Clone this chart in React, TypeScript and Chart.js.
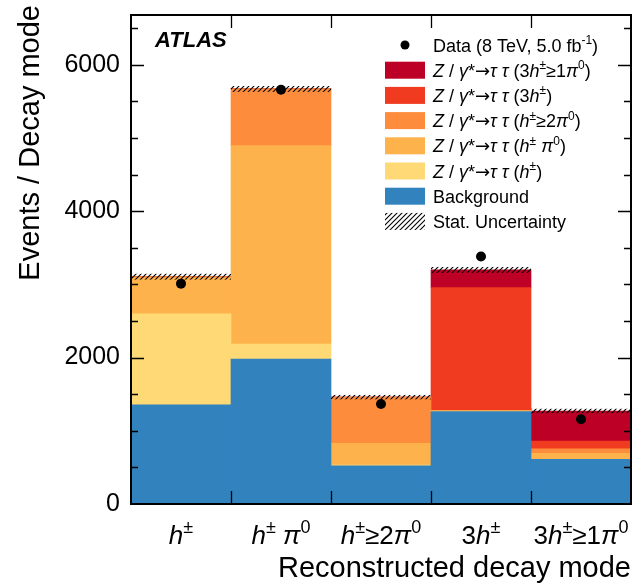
import React, { useEffect, useRef } from 'react';
import { Chart, registerables } from 'chart.js';

Chart.register(...registerables);

// ---------------- data ----------------
const categories = ['h±', 'h± π0', 'h± ≥2π0', '3h±', '3h± ≥1π0'];
const categoryLabels = ['$h$^{±}', '$h$^{±} $π$^{0}', '$h$^{±}≥2$π$^{0}', '3$h$^{±}', '3$h$^{±}≥1$π$^{0}'];

const background = [1355, 1980, 520, 1262, 611];
const zttOneProng = [1243, 205, 10, 0, 0];
const zttOneProngPi0 = [492, 2710, 300, 15, 82];
const zttOneProngXPi0 = [15, 775, 630, 0, 59];
const zttThreeProng = [0, 0, 0, 1679, 109];
const zttThreeProngPi0 = [0, 0, 0, 242, 410];
const dataValues = [3010, 5660, 1366, 3380, 1158];
const statUnc = [40, 40, 30, 40, 30];

const yMax = 6680;
const yMajorTicks = [0, 2000, 4000, 6000];
const yMinorStep = 500;
const yMajorStep = 2000;

const stackSeries = [
  { label: 'Background', legend: 'Background', values: background, color: '#3182BD' },
  { label: 'Ztt h', legend: '$Z$ / $γ$*→$τ τ$ ($h$^{±})', values: zttOneProng, color: '#FED976' },
  { label: 'Ztt h pi0', legend: '$Z$ / $γ$*→$τ τ$ ($h$^{±} $π$^{0})', values: zttOneProngPi0, color: '#FEB24C' },
  { label: 'Ztt h >=2pi0', legend: '$Z$ / $γ$*→$τ τ$ ($h$^{±}≥2$π$^{0})', values: zttOneProngXPi0, color: '#FD8D3C' },
  { label: 'Ztt 3h', legend: '$Z$ / $γ$*→$τ τ$ (3$h$^{±})', values: zttThreeProng, color: '#F03B20' },
  { label: 'Ztt 3h >=1pi0', legend: '$Z$ / $γ$*→$τ τ$ (3$h$^{±}≥1$π$^{0})', values: zttThreeProngPi0, color: '#BD0026' },
];

const FONT = '"Liberation Sans", Arial, Helvetica, sans-serif';
const ARROW_FONT = '"DejaVu Sans", sans-serif';

// ---------------- rich text helpers ----------------
type Seg = { text: string; italic: boolean; sup: boolean };
function parseRich(s: string): Seg[] {
  const segs: Seg[] = [];
  let italic = false;
  let sup = false;
  let buf = '';
  const push = () => {
    if (buf) segs.push({ text: buf, italic, sup });
    buf = '';
  };
  let i = 0;
  while (i < s.length) {
    const c = s[i];
    if (c === '$') { push(); italic = !italic; i++; continue; }
    if (c === '^' && s[i + 1] === '{') { push(); sup = true; i += 2; continue; }
    if (c === '}' && sup) { push(); sup = false; i++; continue; }
    if (c === '→') { push(); buf = c; push(); i++; continue; }
    buf += c;
    i++;
  }
  push();
  return segs;
}

function drawRich(ctx: CanvasRenderingContext2D, s: string, x: number, y: number, size: number, align: 'left' | 'center' | 'right') {
  const segs = parseRich(s);
  const fontFor = (seg: Seg) => {
    const sz = seg.sup ? Math.round(size * 0.68) : size;
    if (seg.text === '→') return `${sz}px ${ARROW_FONT}`;
    return `${seg.italic ? 'italic ' : ''}${sz}px ${FONT}`;
  };
  let w = 0;
  for (const seg of segs) { ctx.font = fontFor(seg); w += ctx.measureText(seg.text).width; }
  let cx = align === 'center' ? x - w / 2 : align === 'right' ? x - w : x;
  ctx.textAlign = 'left';
  ctx.textBaseline = 'alphabetic';
  for (const seg of segs) {
    ctx.font = fontFor(seg);
    ctx.fillText(seg.text, cx, seg.sup ? y - size * 0.42 : y);
    cx += ctx.measureText(seg.text).width;
  }
}

function makeHatch(ctx: CanvasRenderingContext2D): CanvasPattern | string {
  const c = document.createElement('canvas');
  c.width = 5; c.height = 5;
  const g = c.getContext('2d');
  if (!g) return '#000';
  g.strokeStyle = '#000';
  g.lineWidth = 1.1;
  g.beginPath();
  g.moveTo(-1, 6); g.lineTo(6, -1);
  g.moveTo(-1, 1); g.lineTo(1, -1);
  g.moveTo(4, 6); g.lineTo(6, 4);
  g.stroke();
  return ctx.createPattern(c, 'repeat') || '#000';
}

const atlasPlugin = {
  id: 'atlasDecor',
  afterDatasetDraw(chart: any, args: any) {
    if (args.index !== 0) return;
    const ctx: CanvasRenderingContext2D = chart.ctx;
    const xs = chart.scales.x;
    const ys = chart.scales.y;
    const half = (xs.getPixelForValue(1) - xs.getPixelForValue(0)) / 2;
    const pat = makeHatch(ctx);
    ctx.save();
    categories.forEach((_, i) => {
      const total = stackSeries.reduce((a, s) => a + s.values[i], 0);
      const x0 = xs.getPixelForValue(i) - half;
      const top = ys.getPixelForValue(total + statUnc[i]);
      const bot = ys.getPixelForValue(total - statUnc[i]);
      ctx.fillStyle = pat as any;
      ctx.fillRect(x0, top, 2 * half, bot - top);
    });
    ctx.restore();
  },
  afterDatasetsDraw(chart: any) {
    const ctx: CanvasRenderingContext2D = chart.ctx;
    const ca = chart.chartArea;
    const xs = chart.scales.x;
    const ys = chart.scales.y;
    const half = (xs.getPixelForValue(1) - xs.getPixelForValue(0)) / 2;
    ctx.save();
    ctx.strokeStyle = '#000';
    ctx.lineWidth = 1.3;
    ctx.beginPath();
    for (let v = yMinorStep; v < yMax; v += yMinorStep) {
      const y = Math.round(ys.getPixelForValue(v)) + 0.5;
      const len = v % yMajorStep === 0 ? 13 : 7;
      ctx.moveTo(ca.left, y); ctx.lineTo(ca.left + len, y);
      ctx.moveTo(ca.right, y); ctx.lineTo(ca.right - len, y);
    }
    for (let k = 1; k < categories.length; k++) {
      const x = Math.round(xs.getPixelForValue(k) - half) + 0.5;
      ctx.moveTo(x, ca.bottom); ctx.lineTo(x, ca.bottom - 13);
      ctx.moveTo(x, ca.top); ctx.lineTo(x, ca.top + 13);
    }
    ctx.stroke();
    ctx.lineWidth = 2;
    ctx.strokeRect(ca.left, ca.top, ca.right - ca.left, ca.bottom - ca.top);
    ctx.restore();
  },
  afterDraw(chart: any) {
    const ctx: CanvasRenderingContext2D = chart.ctx;
    const ca = chart.chartArea;
    const xs = chart.scales.x;
    ctx.save();
    ctx.fillStyle = '#000';
    // x category labels
    categoryLabels.forEach((lab, i) => {
      drawRich(ctx, lab, xs.getPixelForValue(i), 544, 26, 'center');
    });
    // x title
    ctx.font = `29px ${FONT}`;
    ctx.textAlign = 'right';
    ctx.textBaseline = 'alphabetic';
    ctx.fillText('Reconstructed decay mode', ca.right, 577);
    // y title
    ctx.save();
    ctx.translate(39, 5);
    ctx.rotate(-Math.PI / 2);
    ctx.textAlign = 'right';
    ctx.fillText('Events / Decay mode', 0, 0);
    ctx.restore();
    // ATLAS
    ctx.font = `italic bold 22px ${FONT}`;
    ctx.textAlign = 'left';
    ctx.fillText('ATLAS', 155, 47);
    // legend
    const swX = 385, swW = 40, swH = 17, txtX = 433, pitch = 25.2, y0 = 45;
    ctx.beginPath();
    ctx.arc(swX + swW / 2, y0, 4.5, 0, Math.PI * 2);
    ctx.fill();
    drawRich(ctx, 'Data (8 TeV, 5.0 fb^{-1})', txtX, y0 + 6.5, 18, 'left');
    const rows = [...stackSeries].reverse();
    rows.forEach((s, j) => {
      const cy = y0 + (j + 1) * pitch;
      ctx.fillStyle = s.color;
      ctx.fillRect(swX, cy - swH / 2, swW, swH);
      ctx.fillStyle = '#000';
      drawRich(ctx, s.legend, txtX, cy + 6.5, 18, 'left');
    });
    const cyU = y0 + (rows.length + 1) * pitch;
    ctx.fillStyle = makeHatch(ctx) as any;
    ctx.fillRect(swX, cyU - swH / 2, swW, swH);
    ctx.fillStyle = '#000';
    drawRich(ctx, 'Stat. Uncertainty', txtX, cyU + 6.5, 18, 'left');
    ctx.restore();
  },
};

export default function App() {
  const ref = useRef<HTMLCanvasElement | null>(null);
  useEffect(() => {
    if (!ref.current) return;
    const datasets: any[] = stackSeries.map((s) => ({
      type: 'bar',
      label: s.label,
      data: s.values,
      backgroundColor: s.color,
      borderWidth: 0,
      barPercentage: 1,
      categoryPercentage: 1,
      order: 1,
    }));
    datasets.push({
      type: 'line',
      label: 'Data',
      data: dataValues,
      showLine: false,
      pointRadius: 5,
      pointBackgroundColor: '#000',
      pointBorderColor: '#000',
      pointBorderWidth: 0,
      order: 0,
    });
    const chart = new Chart(ref.current, {
      type: 'bar',
      data: { labels: categories, datasets },
      options: {
        animation: false,
        responsive: false,
        events: [],
        layout: { padding: { left: 0, right: 11, top: 15, bottom: 84 } },
        plugins: { legend: { display: false }, tooltip: { enabled: false } },
        scales: {
          x: { stacked: true, display: false, offset: true },
          y: {
            stacked: true,
            min: 0,
            max: yMax,
            border: { display: false },
            grid: { display: false, drawTicks: false },
            ticks: {
              autoSkip: false,
              padding: 11,
              color: '#000',
              font: { size: 25, family: FONT },
              callback: (v: any) => String(v),
            },
            afterBuildTicks: (s: any) => { s.ticks = yMajorTicks.map((v) => ({ value: v })); },
            afterFit: (s: any) => {
              s.width = 131;
              s.paddingTop = 0;
              s.paddingBottom = 0;
            },
          },
        },
      } as any,
      plugins: [atlasPlugin],
    });
    return () => chart.destroy();
  }, []);
  return (
    <div style={{ position: 'absolute', left: 0, top: 0, width: 642, height: 588, background: '#fff' }}>
      <canvas ref={ref} width={642} height={588} />
    </div>
  );
}
